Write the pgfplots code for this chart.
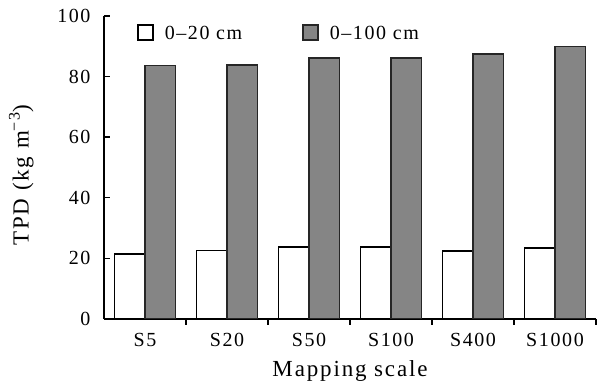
\documentclass[border=0pt]{standalone}
\usepackage{pgfplots}
\pgfplotsset{compat=1.18}
\usepackage{fontspec}
\setmainfont{Liberation Serif}[LetterSpace=8]
\definecolor{bargray}{RGB}{133,133,133}
\begin{document}
\begin{tikzpicture}
\begin{axis}[
  at={(0pt,0pt)}, anchor=south west,
  scale only axis,
  width=492pt, height=303pt,
  axis lines=left,
  axis line style={line width=1.6pt, -},
  xmin=-0.5, xmax=5.5,
  ymin=0, ymax=100,
  ytick={0,20,...,100},
  xtick={0.5,1.5,...,5.5},
  xticklabels={},
  extra x ticks={0,...,5},
  extra x tick labels={S5,S20,S50,S100,S400,S1000},
  extra x tick style={major tick length=0pt, tick style={draw=none}},
  major tick length=6pt,
  tick align=inside,
  tick style={line width=1.4pt, black},
  ticklabel style={font=\fontsize{20}{24}\selectfont},
  /pgf/number format/assume math mode=true,
  xticklabel style={yshift=-11pt},
  yticklabel style={xshift=-10pt},
  xlabel={Mapping scale},
  ylabel={TPD (kg m\textsuperscript{−3})},
  label style={font=\fontsize{23}{27}\selectfont},
  xlabel style={at={(axis description cs:0.5,0)}, anchor=center, yshift=-52pt},
  ylabel style={at={(axis description cs:-0.168,0.475)}, anchor=center},
  ybar,
  bar width=30.5pt,
  legend columns=2,
  legend style={at={(0.067,0.975)}, anchor=north west, draw=none, fill=none,
    inner sep=0pt, font=\fontsize{20}{24}\selectfont,
    /tikz/column 2/.style={column sep=58pt}},
  legend image code/.code={\draw[#1, line width=1.6pt] (0pt,-7pt) rectangle (15pt,8pt); \path (24pt,0pt);},
]
\addplot[fill=white, draw=black, line width=1.6pt, bar shift=-15.25pt]
  coordinates {(0,21.4) (1,22.6) (2,23.7) (3,23.7) (4,22.5) (5,23.4)};
\addplot[fill=bargray, draw=black!85, line width=1.6pt, bar shift=15.25pt]
  coordinates {(0,83.7) (1,83.8) (2,86.1) (3,86.1) (4,87.5) (5,89.9)};
\legend{0–20 cm, 0–100 cm}
\end{axis}
\pgfresetboundingbox
\path[use as bounding box] (-104pt,-68pt) rectangle (495pt,319pt);
\end{tikzpicture}
\end{document}
